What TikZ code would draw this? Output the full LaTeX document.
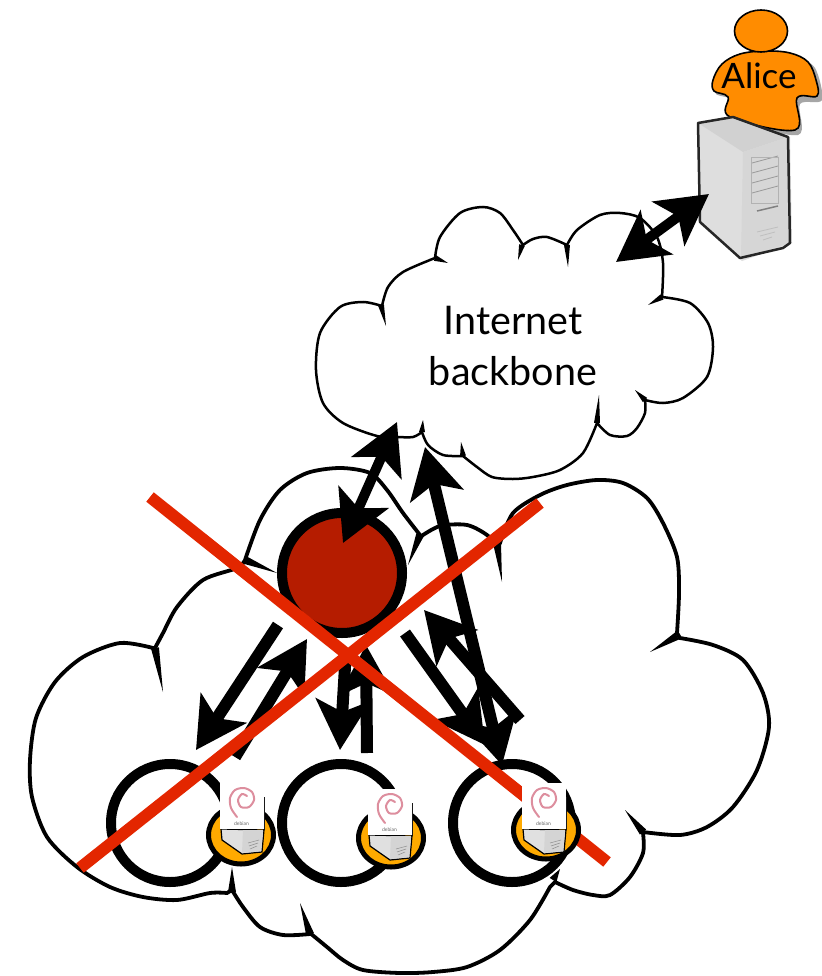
\documentclass[tikz,border=0pt]{standalone}
\usepackage{fontspec}
\setmainfont{Lato}
\usetikzlibrary{arrows.meta,calc,shapes.geometric}
\definecolor{personorange}{HTML}{FF8C00}
\definecolor{hostorange}{HTML}{FFAA00}
\definecolor{routerred}{HTML}{B51C00}
\definecolor{crossred}{HTML}{E32600}
\definecolor{debianpink}{HTML}{DD8E9E}
\tikzset{
  cloudthin/.style={draw=black,fill=white,line width=2.5pt},
  cloudthick/.style={draw=black,fill=white,line width=3.8pt},
  lan/.style={circle,draw=black,fill=white,line width=10pt,minimum size=118pt,inner sep=0pt},
  router/.style={circle,draw=black,fill=routerred,line width=10pt,minimum size=120pt,inner sep=0pt},
  hostspot/.style={ellipse,draw=black,fill=hostorange,line width=5pt,minimum width=65pt,minimum height=58pt,inner sep=0pt},
  link/.style={draw=black,line width=12pt},
  bighead/.tip={Stealth[length=50pt,width=54pt,inset=12pt]},
  crossbar/.style={draw=crossred,line width=12pt},
  minihost/.pic={
    \fill[black!90] (43,14) rectangle (44.5,47);
    \draw[fill=black!12,line width=1.2pt] (1,46) -- (2,57) -- (22,71) -- (42,69) -- (44,47) -- cycle;
    \fill[black!17] (23,47) -- (22,70) -- (41,68) -- (43,47) -- cycle;
    \draw[black!45,line width=0.5pt] (28,60) -- (39,57) (29,63) -- (38,60) (30,66) -- (37,63);
    \fill[white] (0,0) rectangle (43.5,46);
    \draw[debianpink,line width=2pt,line cap=round] plot[smooth] coordinates {(17,34) (11,25) (10,15) (15,7) (24,5) (32,9) (34,17) (29,24) (21,24) (18,17) (22,11) (27,13)};
    \node (label) at (21.5,41) [text=black!60,font=\fontsize{5}{6}\selectfont,inner sep=0pt] {debian};
  }
}

\begin{document}
\begin{tikzpicture}[x=1pt,y=-1pt]
  \fill[white] (0,0) rectangle (821,976);
  \useasboundingbox (0,0) rectangle (821,976);

  % Lower cloud
  \draw[cloudthick] plot[smooth] coordinates {(245,560) (260,520) (280,490) (307,473) (340,468) (370,473) (387,490) (403,513) (420,535)}
    -- plot[smooth] coordinates {(420,537) (440,526) (467,525) (487,535) (497,547)}
    -- plot[smooth] coordinates {(500,543) (513,513) (540,495) (567,485) (597,480) (623,483) (647,498) (663,523) (677,557) (679,593) (677,633)}
    -- plot[smooth] coordinates {(680,638) (713,645) (743,660) (763,693) (769,727) (757,770) (733,807) (707,827) (680,835) (643,832)}
    -- plot[smooth] coordinates {(643,833) (643,853) (630,877) (610,895) (593,895) (573,890) (555,882)}
    -- plot[smooth] coordinates {(550,887) (530,920) (500,950) (467,967) (433,972) (400,973) (363,970) (343,960) (327,947) (310,933)}
    -- plot[smooth] coordinates {(310,934) (283,935) (260,927) (243,907) (232,890)}
    -- plot[smooth] coordinates {(227,893) (210,893) (177,900) (143,897) (110,887) (77,867) (47,837) (32,797) (30,760) (36,718) (55,682) (83,657) (120,643) (153,648)}
    -- plot[smooth] coordinates {(155,648) (163,633) (177,607) (203,580) (237,568) (245,560)} -- cycle;
  \foreach \jx/\jy/\tx/\ty in {245/560/277/573,420/535/408/565,497/543/502/582,677/636/650/652,643/832/625/810,553/880/560/869,310/934/300/903,232/892/232/867,155/648/163/692}
    \fill ($(\jx,\jy)!4pt!90:(\tx,\ty)$) -- (\tx,\ty) -- ($(\jx,\jy)!4pt!-90:(\tx,\ty)$) -- cycle;

  % Upper cloud
  \draw[cloudthin] plot[smooth] coordinates {(435,258) (440,237) (460,213) (483,207) (500,213) (513,230) (523,245)}
    -- plot[smooth] coordinates {(523,245) (533,239) (547,237) (567,245)}
    -- plot[smooth] coordinates {(567,245) (577,230) (600,215) (620,213) (640,218) (657,237) (663,263) (662,297)}
    -- plot[smooth] coordinates {(662,297) (690,303) (708,323) (713,347) (707,377) (683,398) (663,403) (645,400)}
    -- plot[smooth] coordinates {(645,400) (645,413) (637,428) (627,436) (610,435) (597,423)}
    -- plot[smooth] coordinates {(597,423) (583,453) (560,470) (533,477) (513,479) (492,477) (477,467) (463,456)}
    -- plot[smooth] coordinates {(463,456) (443,455) (428,445) (422,432)}
    -- plot[smooth] coordinates {(422,432) (413,437) (397,437) (377,436) (343,423) (323,403) (316,370) (320,333) (340,307) (363,302) (382,306)}
    -- plot[smooth] coordinates {(382,306) (388,287) (403,272) (435,258)} -- cycle;
  \foreach \jx/\jy/\tx/\ty in {435/258/448/263,522/245/518/260,567/245/568/267,662/297/648/305,645/400/635/390,597/423/599/395,463/456/461/442,422/432/423/420,381/305/386/326}
    \fill ($(\jx,\jy)!3pt!90:(\tx,\ty)$) -- (\tx,\ty) -- ($(\jx,\jy)!3pt!-90:(\tx,\ty)$) -- cycle;
  \node (backbone) at (513,346) [align=center,inner sep=0pt,font=\fontsize{39.5}{51}\selectfont] {Internet\\backbone};

  % Alice and her server
  \fill[black!35] plot[smooth cycle] coordinates {(718,82) (738,60) (765,56) (795,57) (815,68) (822,100) (800,104) (798,135) (733,120) (732,100) (716,94)};
  \draw[fill=personorange,line width=1.6pt] plot[smooth cycle,tension=.6] coordinates {(713,80) (722,64) (740,54) (765,51) (790,53) (808,62) (816,80) (817,96) (797,98) (795,130) (730,117) (728,97) (714,91)};
  \node (head) at (761,31) [ellipse,draw=black,fill=personorange,line width=1.6pt,minimum width=53pt,minimum height=42pt,inner sep=0pt] {};
  \node (alice) at (759,76) [inner sep=0pt,font=\fontsize{35}{38}\selectfont] {Alice};
  \fill[black!13] (698,123) -- (733,117) -- (790,137) -- (792,243) -- (742,261) -- (700,224) -- cycle;
  \fill[black!18] (698,123) -- (733,117) -- (788,137) -- (743,152) -- cycle;
  \fill[black!16] (743,152) -- (788,137) -- (790,243) -- (741,258) -- cycle;
  \draw[black!85,line width=2.5pt,line join=round] (698,123) -- (733,117) -- (788,137) -- (790,243) -- (783,248) -- (740,258) -- (700,222) -- cycle;
  \foreach \vy in {163,173,183,193}
    \draw[black!40,line width=0.8pt] (752,\vy) -- (778,\vy-7);
  \draw[black!30,line width=0.6pt] (751,157) rectangle (778,203);
  \draw[black!50,line width=1.5pt] (757,211) -- (778,206);
  \draw[black!25,line width=0.8pt] (757,232) -- (778,227) (760,236) -- (775,232) (763,240) -- (772,237);

  % Router and the three networks
  \node (gateway) at (342,573) [router] {};
  \node (lan1) at (170,823) [lan] {};
  \node (lan2) at (341,823) [lan] {};
  \node (lan3) at (512,823) [lan] {};

  % Fixed coordinates
  \coordinate (serverend) at (709,194);
  \coordinate (cloudne) at (616,262);
  \coordinate (cloudsw) at (397,422);
  \coordinate (gwtop) at (343,543);
  \coordinate (cloudbot) at (425,447);
  \coordinate (farend) at (502,765);
  \coordinate (gwleft) at (278,625);
  \coordinate (lefttip) at (196,750);
  \coordinate (leftup) at (307,639);
  \coordinate (leftfoot) at (235,757);
  \coordinate (gwmid) at (346,650);
  \coordinate (midtip) at (340,750);
  \coordinate (midup) at (366,645);
  \coordinate (midfoot) at (367,753);
  \coordinate (gwright) at (405,633);
  \coordinate (righttip) at (485,745);
  \coordinate (rightup) at (424,610);
  \coordinate (rightfoot) at (520,720);

  % Arrows
  \draw[link,bighead-bighead,line width=10pt] (cloudne) -- (serverend);
  \draw[link,bighead-bighead,line width=10pt] (cloudsw) -- (gwtop);
  \draw[link,bighead-bighead] (cloudbot) -- (farend);
  \draw[link,-bighead] (gwleft) -- (lefttip);
  \draw[link,-bighead] (leftfoot) -- (leftup);
  \draw[link,-bighead] (gwmid) -- (midtip);
  \draw[link,-bighead] (midfoot) -- (midup);
  \draw[link,-bighead] (gwright) -- (righttip);
  \draw[link,-bighead] (rightfoot) -- (rightup);

  % Cross
  \coordinate (crossa) at (150,497);
  \coordinate (crossb) at (607,862);
  \coordinate (crossc) at (80,868);
  \coordinate (crossd) at (540,503);
  \draw[crossbar] (crossa) -- (crossb);
  \draw[crossbar] (crossc) -- (crossd);

  % Hosts
  \node (spot1) at (241,835) [hostspot] {};
  \node (spot2) at (391,838) [hostspot] {};
  \node (spot3) at (546,830) [hostspot] {};
  \pic (hosta) at (220,783) {minihost};
  \pic (hostb) at (368,789) {minihost};
  \pic (hostc) at (522,783) {minihost};
\end{tikzpicture}
\end{document}
